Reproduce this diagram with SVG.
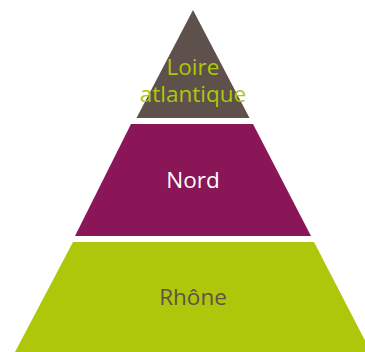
<svg xmlns="http://www.w3.org/2000/svg" width="365" height="352" viewBox="0 0 365 352">
<style>
text{font-family:"Open Sans","Liberation Sans",sans-serif;font-size:22.5px;text-anchor:middle}
</style>
<rect width="365" height="352" fill="#ffffff"/>
<g id="top">
<polygon points="193,10 249.5,118 136.5,118" fill="#5e514b"/>
<text x="193" y="75" fill="#afc70b">Loire</text>
<text x="193" y="102" fill="#afc70b">atlantique</text>
</g>
<g id="middle">
<polygon points="131,124 253,124 311,236 75,236" fill="#8a1657"/>
<text x="193" y="188" fill="#ffffff">Nord</text>
</g>
<g id="bottom">
<polygon points="73,242 314,242 371,352 15,352" fill="#afc70b"/>
<text x="193" y="305" fill="#5e514b">Rhône</text>
</g>
</svg>
